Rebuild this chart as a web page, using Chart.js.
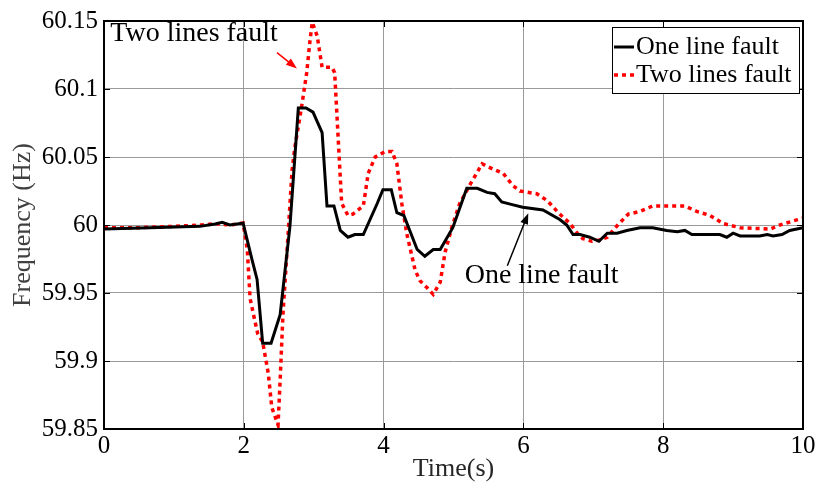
<!DOCTYPE html>
<html>
<head>
<meta charset="utf-8">
<script src="https://cdn.jsdelivr.net/npm/chart.js@4/dist/chart.umd.min.js"></script>
<style>
  html, body { margin: 0; padding: 0; background: #fff; }
  #wrap { width: 821px; height: 495px; }
</style>
</head>
<body>
<div id="wrap"><canvas id="c" width="821" height="495"></canvas></div>
<script>
// Frequency response after a line fault (time in s, frequency in Hz)
const oneLineTime = [0, 0.66, 1.37, 1.59, 1.69, 1.80, 1.99, 2.12, 2.19, 2.27, 2.39, 2.52, 2.66, 2.78, 2.89, 2.99, 3.12, 3.19, 3.29, 3.38, 3.49, 3.59, 3.71, 3.91, 3.99, 4.11, 4.19, 4.29, 4.48, 4.59, 4.71, 4.81, 4.99, 5.19, 5.34, 5.48, 5.59, 5.69, 5.84, 5.99, 6.28, 6.52, 6.62, 6.71, 6.81, 6.95, 7.08, 7.20, 7.34, 7.48, 7.67, 7.85, 8.05, 8.20, 8.31, 8.41, 8.81, 8.91, 9.00, 9.10, 9.38, 9.49, 9.57, 9.70, 9.81, 10];
const oneLineFreq = [59.997, 59.998, 59.999, 60.0007, 60.002, 60.0, 60.0014, 59.974, 59.960, 59.913, 59.913, 59.934, 59.999, 60.086, 60.086, 60.083, 60.068, 60.014, 60.014, 59.996, 59.991, 59.993, 59.993, 60.016, 60.026, 60.026, 60.009, 60.007, 59.982, 59.977, 59.982, 59.982, 59.998, 60.027, 60.027, 60.024, 60.023, 60.017, 60.015, 60.013, 60.011, 60.004, 60.0, 59.993, 59.993, 59.991, 59.988, 59.994, 59.994, 59.996, 59.998, 59.998, 59.996, 59.995, 59.996, 59.993, 59.993, 59.991, 59.994, 59.992, 59.992, 59.993, 59.992, 59.993, 59.996, 59.998];

const twoLinesTime = [0, 0.5, 1.0, 1.4, 1.6, 1.8, 1.99, 2.05, 2.09, 2.16, 2.20, 2.27, 2.35, 2.40, 2.49, 2.52, 2.56, 2.62, 2.69, 2.73, 2.83, 2.90, 2.95, 2.98, 3.05, 3.12, 3.26, 3.30, 3.35, 3.40, 3.49, 3.56, 3.71, 3.78, 3.88, 4.02, 4.12, 4.19, 4.26, 4.33, 4.45, 4.52, 4.62, 4.71, 4.81, 4.88, 4.98, 5.09, 5.24, 5.41, 5.57, 5.71, 5.85, 5.95, 6.19, 6.34, 6.52, 6.67, 6.77, 6.85, 6.98, 7.10, 7.20, 7.35, 7.50, 7.67, 7.85, 8.31, 8.48, 8.67, 8.86, 9.10, 9.53, 9.67, 9.86, 10];
const twoLinesFreq = [59.998, 59.998, 59.999, 60.0, 60.001, 60.0, 60.0014, 59.982, 59.946, 59.929, 59.920, 59.914, 59.891, 59.866, 59.853, 59.886, 59.934, 59.982, 60.040, 60.057, 60.088, 60.112, 60.137, 60.149, 60.139, 60.116, 60.116, 60.112, 60.064, 60.016, 60.007, 60.008, 60.014, 60.038, 60.050, 60.054, 60.054, 60.045, 60.016, 59.994, 59.967, 59.959, 59.954, 59.949, 59.958, 59.980, 59.999, 60.016, 60.030, 60.045, 60.041, 60.038, 60.029, 60.025, 60.023, 60.018, 60.008, 60.001, 59.994, 59.990, 59.988, 59.989, 59.991, 60.0, 60.008, 60.010, 60.014, 60.014, 60.010, 60.007, 60.001, 59.998, 59.997, 60.0, 60.003, 60.005];

const seriesNames = ['One line fault', 'Two lines fault'];
const xTicks = [0, 2, 4, 6, 8, 10];
const xTickLabels = ['0', '2', '4', '6', '8', '10'];
const yTicks = [59.85, 59.9, 59.95, 60, 60.05, 60.1, 60.15];
const yTickLabels = ['59.85', '59.9', '59.95', '60', '60.05', '60.1', '60.15'];

// In-plot callouts: text anchor and arrow (tail -> head) in data units
const callouts = [
  { text: 'Two lines fault', color: '#000', arrowColor: '#ff0000',
    at: [0.09, 60.1405], tail: [2.475, 60.1268], head: [2.76, 60.1150] },
  { text: 'One line fault', color: '#000', arrowColor: '#000',
    at: [5.16, 59.9625], tail: [5.77, 59.9700], head: [6.07, 60.0087] }
];

const SERIF = '"Liberation Serif", "Times New Roman", serif';

const toPoints = (xs, ys) => xs.map((x, i) => ({ x: x, y: ys[i] }));

const framePlugin = {
  id: 'frame',
  afterDatasetsDraw(chart) {
    const { ctx, chartArea: a, scales } = chart;
    ctx.save();
    // inward tick marks
    ctx.strokeStyle = '#000';
    ctx.lineWidth = 1;
    const tl = 6;
    xTicks.forEach(v => {
      const px = Math.round(scales.x.getPixelForValue(v)) + 0.5;
      ctx.beginPath();
      ctx.moveTo(px, a.bottom); ctx.lineTo(px, a.bottom - tl);
      ctx.moveTo(px, a.top); ctx.lineTo(px, a.top + tl);
      ctx.stroke();
    });
    yTicks.forEach(v => {
      const py = Math.round(scales.y.getPixelForValue(v)) + 0.5;
      ctx.beginPath();
      ctx.moveTo(a.left, py); ctx.lineTo(a.left + tl, py);
      ctx.moveTo(a.right, py); ctx.lineTo(a.right - tl, py);
      ctx.stroke();
    });
    // axes box
    ctx.lineWidth = 2;
    ctx.strokeRect(a.left, a.top, a.right - a.left, a.bottom - a.top);

    // callouts
    callouts.forEach(c => {
      ctx.font = '28px ' + SERIF;
      ctx.fillStyle = c.color;
      ctx.textAlign = 'left';
      ctx.textBaseline = 'middle';
      ctx.fillText(c.text, scales.x.getPixelForValue(c.at[0]), scales.y.getPixelForValue(c.at[1]));
      const x0 = scales.x.getPixelForValue(c.tail[0]), y0 = scales.y.getPixelForValue(c.tail[1]);
      const x1 = scales.x.getPixelForValue(c.head[0]), y1 = scales.y.getPixelForValue(c.head[1]);
      const ang = Math.atan2(y1 - y0, x1 - x0);
      ctx.strokeStyle = c.arrowColor;
      ctx.fillStyle = c.arrowColor;
      ctx.lineWidth = 1.5;
      ctx.beginPath();
      ctx.moveTo(x0, y0);
      ctx.lineTo(x1 - 6 * Math.cos(ang), y1 - 6 * Math.sin(ang));
      ctx.stroke();
      const hl = 11, hw = 4;
      ctx.beginPath();
      ctx.moveTo(x1, y1);
      ctx.lineTo(x1 - hl * Math.cos(ang) + hw * Math.sin(ang), y1 - hl * Math.sin(ang) - hw * Math.cos(ang));
      ctx.lineTo(x1 - hl * Math.cos(ang) - hw * Math.sin(ang), y1 - hl * Math.sin(ang) + hw * Math.cos(ang));
      ctx.closePath();
      ctx.fill();
    });

    // legend box in the upper right corner
    const bx = a.right - 191, by = a.top + 6, bw = 187, bh = 66;
    ctx.fillStyle = '#fff';
    ctx.fillRect(bx, by, bw, bh);
    ctx.strokeStyle = '#000';
    ctx.lineWidth = 1;
    ctx.strokeRect(bx + 0.5, by + 0.5, bw, bh);
    ctx.font = '26px ' + SERIF;
    ctx.textBaseline = 'middle';
    chart.data.datasets.forEach((ds, i) => {
      const ly = by + 20 + i * 28;
      ctx.strokeStyle = ds.borderColor;
      ctx.lineWidth = ds.borderWidth;
      ctx.setLineDash(ds.borderDash || []);
      ctx.beginPath();
      ctx.moveTo(bx + 2, ly); ctx.lineTo(bx + 22, ly);
      ctx.stroke();
      ctx.setLineDash([]);
      ctx.fillStyle = '#000';
      ctx.fillText(ds.label, bx + 24, ly);
    });
    ctx.restore();
  }
};

new Chart(document.getElementById('c'), {
  type: 'line',
  data: {
    datasets: [
      { label: seriesNames[0], data: toPoints(oneLineTime, oneLineFreq),
        borderColor: '#000000', borderWidth: 3, pointRadius: 0, tension: 0, fill: false },
      { label: seriesNames[1], data: toPoints(twoLinesTime, twoLinesFreq),
        borderColor: '#ff0000', borderWidth: 3.5, borderDash: [4, 4], borderCapStyle: 'butt',
        pointRadius: 0, tension: 0, fill: false }
    ]
  },
  options: {
    responsive: false,
    animation: false,
    events: [],
    layout: { padding: { top: 15, right: 18, left: 0, bottom: 0 } },
    plugins: { legend: { display: false }, tooltip: { enabled: false } },
    scales: {
      x: {
        type: 'linear', min: 0, max: 10,
        afterBuildTicks: s => { s.ticks = xTicks.map(v => ({ value: v })); },
        afterFit: s => { s.height = 66; },
        grid: { color: '#9a9a9a', lineWidth: 1, drawTicks: false },
        border: { display: false },
        ticks: {
          padding: 2, color: '#000', font: { family: SERIF, size: 25 },
          maxRotation: 0, autoSkip: false,
          callback: v => xTickLabels[xTicks.indexOf(v)]
        },
        title: { display: true, text: 'Time(s)', color: '#262626',
                 font: { family: SERIF, size: 26 }, padding: { top: 0, bottom: 10 } }
      },
      y: {
        type: 'linear', min: 59.85, max: 60.15,
        afterBuildTicks: s => { s.ticks = yTicks.map(v => ({ value: v })); },
        afterFit: s => { s.width = 104; },
        grid: { color: '#9a9a9a', lineWidth: 1, drawTicks: false },
        border: { display: false },
        ticks: {
          padding: 6, color: '#000', font: { family: SERIF, size: 25 }, autoSkip: false,
          callback: (v, i) => yTickLabels[i]
        },
        title: { display: true, text: 'Frequency (Hz)', color: '#404040',
                 font: { family: SERIF, size: 26 }, padding: { top: 8, bottom: 0 } }
      }
    }
  },
  plugins: [framePlugin]
});
</script>
</body>
</html>
